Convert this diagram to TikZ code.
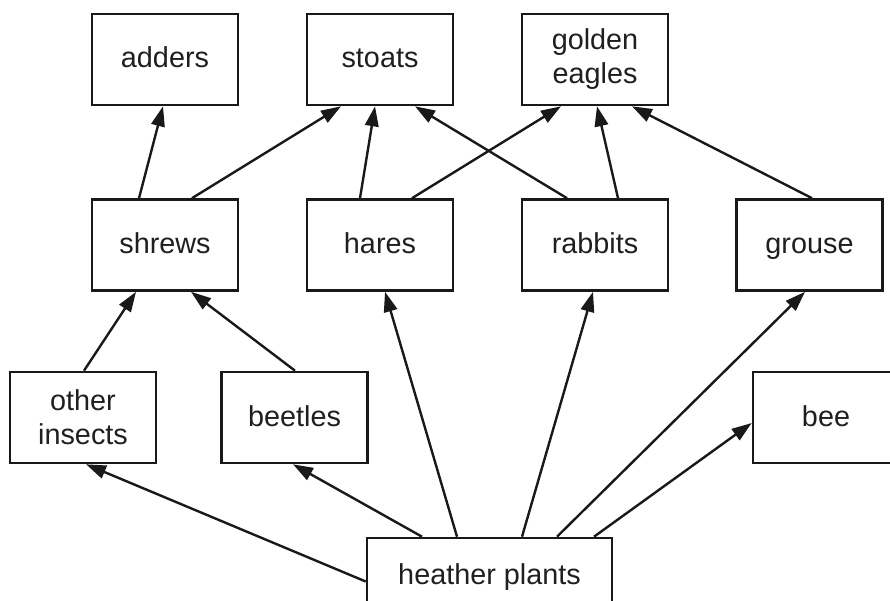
\documentclass[tikz,border=0pt]{standalone}
\usepackage{fontspec}
\setmainfont{Liberation Sans}
\usetikzlibrary{arrows.meta}
\begin{document}
\begin{tikzpicture}[x=1pt,y=-1pt,
  box/.style={draw=black!90, line width=2.6pt, minimum width=146pt, minimum height=91pt, inner sep=0pt, align=center, font=\fontsize{28.8}{34}\selectfont, text=black!88},
  single/.style={text height=22pt, text depth=5pt},
  arr/.style={line width=2.4pt, draw=black!90, -{Triangle[length=20pt,width=13.5pt]}}
]
\useasboundingbox (0,0) rectangle (890,601);
\clip (0,0) rectangle (890,601);
\node[box, single] (adders) at (165,59.5) {adders};
\node[box, single] (stoats) at (380,59.5) {stoats};
\node[box] (eagles) at (595,59.5) {golden\\eagles};
\node[box, single] (shrews) at (165,245) {shrews};
\node[box, single] (hares) at (380,245) {hares};
\node[box, single] (rabbits) at (595,245) {rabbits};
\node[box, single] (grouse) at (809.5,245) {grouse};
\node[box] (other) at (83,417.5) {other\\insects};
\node[box, single] (beetles) at (294.5,417.5) {beetles};
\node[box, single] (bee) at (826,417.5) {bee};
\node[box, single, minimum width=245pt, minimum height=75pt] (heather) at (489.5,575.5) {heather plants};

\draw[arr] ([xshift=-26pt]shrews.north) -- ([xshift=-2pt]adders.south);
\draw[arr] ([xshift=27pt]shrews.north) -- ([xshift=-39pt]stoats.south);
\draw[arr] ([xshift=-20pt]hares.north) -- ([xshift=-5pt]stoats.south);
\draw[arr] ([xshift=-28pt]rabbits.north) -- ([xshift=35pt]stoats.south);
\draw[arr] ([xshift=32pt]hares.north) -- ([xshift=-34pt]eagles.south);
\draw[arr] ([xshift=23pt]rabbits.north) -- ([xshift=2pt]eagles.south);
\draw[arr] ([xshift=2.5pt]grouse.north) -- ([xshift=37pt]eagles.south);
\draw[arr] ([xshift=1pt]other.north) -- ([xshift=-29pt]shrews.south);
\draw[arr] ([xshift=0.5pt]beetles.north) -- ([xshift=26pt]shrews.south);
\draw[arr] ([yshift=-6pt]heather.west) -- ([xshift=3pt]other.south);
\draw[arr] ([xshift=-67.5pt]heather.north) -- ([xshift=-1.5pt]beetles.south);
\draw[arr] ([xshift=-32.5pt]heather.north) -- ([xshift=5pt]hares.south);
\draw[arr] ([xshift=32.5pt]heather.north) -- ([xshift=-2pt]rabbits.south);
\draw[arr] ([xshift=67.5pt]heather.north) -- ([xshift=-4.5pt]grouse.south);
\draw[arr] ([xshift=104.5pt]heather.north) -- ([yshift=-5.5pt]bee.west);
\end{tikzpicture}
\end{document}
